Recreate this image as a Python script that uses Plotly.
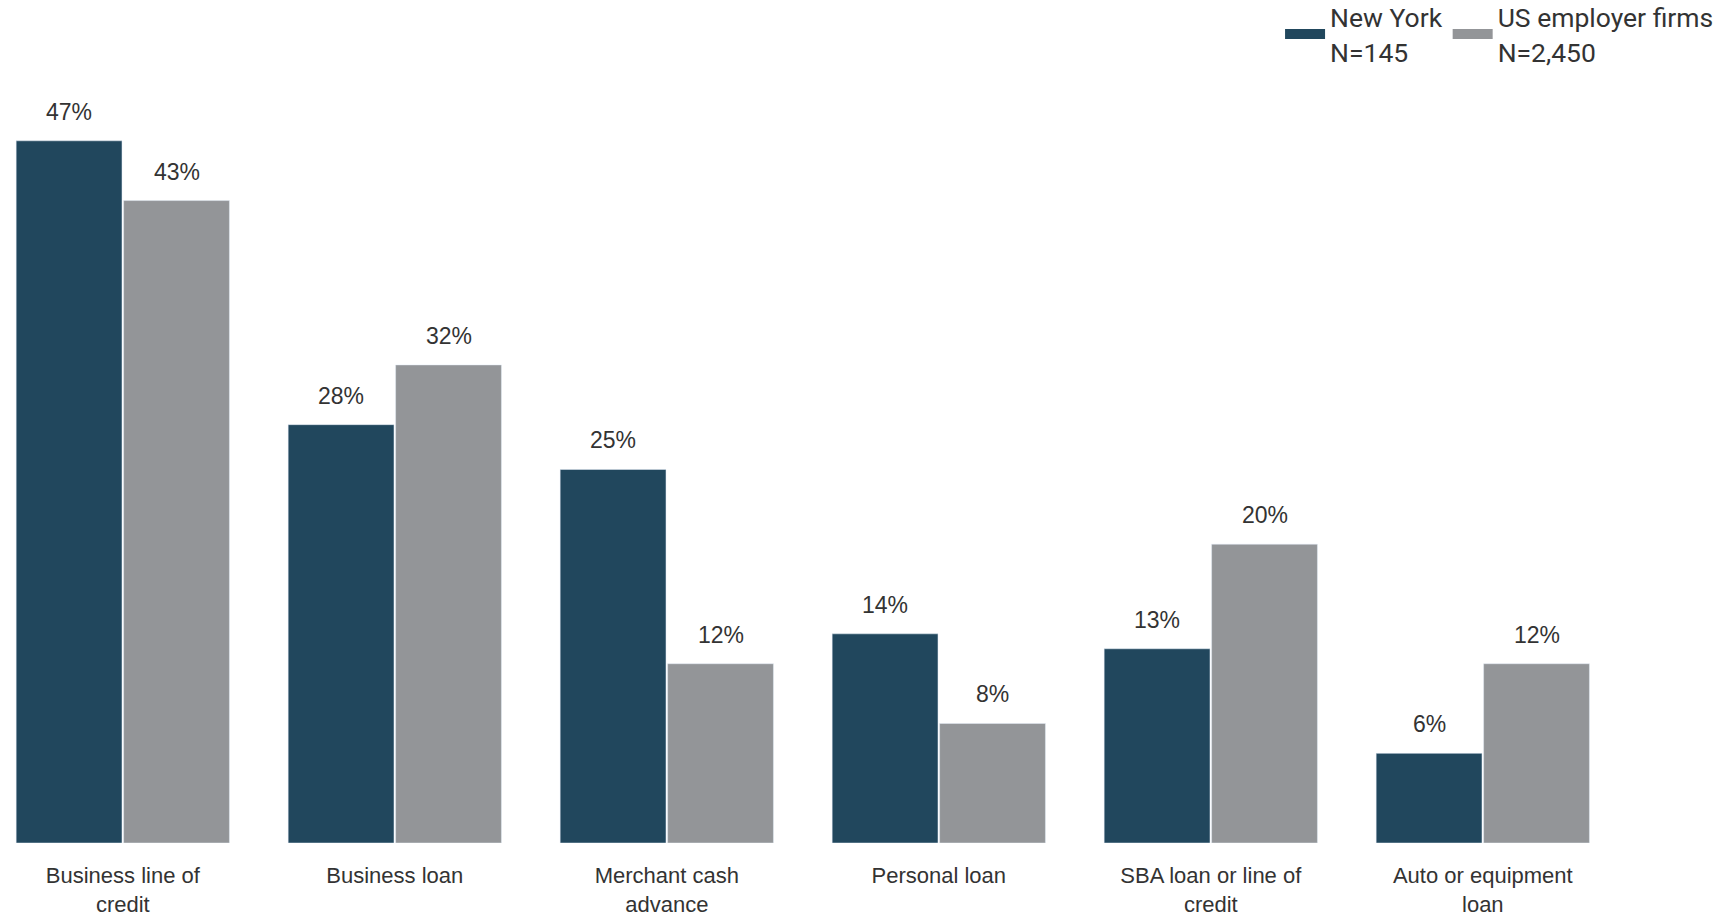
import plotly.graph_objects as go

categories = ["Business line of<br>credit", "Business loan", "Merchant cash<br>advance",
              "Personal loan", "SBA loan or line of<br>credit", "Auto or equipment<br>loan"]
series_names = ["New York<br>N=145", "US employer firms<br>N=2,450"]
new_york = [47, 28, 25, 14, 13, 6]
us_firms = [43, 32, 12, 8, 20, 12]
colors = ["#21475d", "#939598"]
values = [new_york, us_firms]

W, H = 1727, 917
fig = go.Figure()
x_idx = list(range(len(categories)))
for name, vals, col in zip(series_names, values, colors):
    fig.add_trace(go.Bar(x=x_idx, y=vals, marker_color=col, showlegend=False, name=name))
# legend entries (wide swatches)
for name, col in zip(series_names, colors):
    fig.add_trace(go.Scatter(x=[None], y=[None], mode="lines", line=dict(color=col, width=11),
                             name=name, showlegend=True))

bargap = 0.21
off = (1 - bargap) / 4
annotations = []
for k, vals in enumerate(values):
    sign = -1 if k == 0 else 1
    for i, v in enumerate(vals):
        annotations.append(dict(x=i + sign * off, y=v, xref="x", yref="y", text=f"{v}%",
                                showarrow=False, yshift=29, yanchor="middle",
                                font=dict(family="Liberation Sans, Arial", size=23, color="#333333")))

spacing = 272.0
c0 = 122.8
base = 843.5
top = 80
plot_h = base - top
fig.update_layout(
    width=W, height=H,
    margin=dict(l=0, r=0, t=top, b=H - base, autoexpand=False),
    plot_bgcolor="white", paper_bgcolor="white",
    barmode="group", bargap=bargap, bargroupgap=0.015,
    annotations=annotations,
    legend=dict(orientation="h", x=0.9954, xanchor="right", y=(base + 7) / plot_h, yref="paper",
                yanchor="top",
                font=dict(family="Roboto", size=26.5, color="#333333"), itemwidth=40,
                bgcolor="rgba(0,0,0,0)", traceorder="normal"),
    xaxis=dict(range=[-c0 / spacing, (W - c0) / spacing], tickmode="array", tickvals=x_idx,
               ticktext=categories, showgrid=False, zeroline=False, showline=False,
               ticks="", ticklabelstandoff=17, automargin=False,
               tickfont=dict(family="Liberation Sans, Arial", size=22, color="#333333")),
    yaxis=dict(range=[0, plot_h / 14.95], visible=False, showgrid=False, zeroline=False,
               automargin=False),
)
fig.write_html("out.html", config={"displayModeBar": False},
               post_script="document.body.style.margin='0';")
